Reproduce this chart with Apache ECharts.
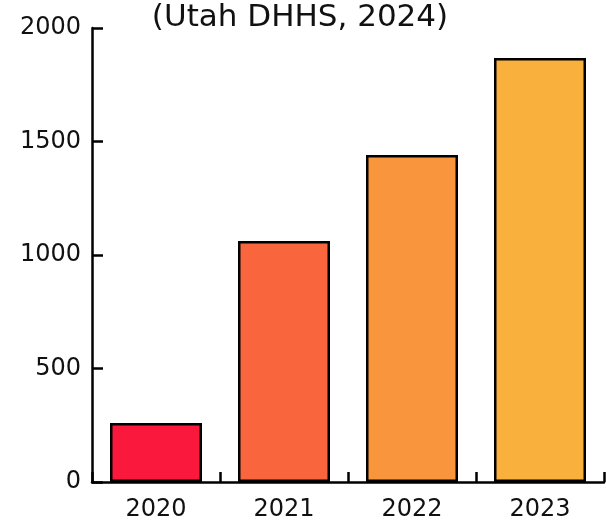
<!DOCTYPE html>
<html>
<head>
<meta charset="utf-8">
<script src="https://cdn.jsdelivr.net/npm/echarts@6/dist/echarts.min.js"></script>
<style>
  html, body { margin: 0; padding: 0; background: #fff; }
  #chart { width: 606px; height: 526px; }
</style>
</head>
<body>
<div id="chart"></div>
<script>
var years = ['2020', '2021', '2022', '2023'];
var counts = [260, 1062, 1440, 1868];
var barColors = ['#FA183D', '#F9653D', '#F9963D', '#F9B03C'];
var yTicks = [0, 500, 1000, 1500, 2000];

var font = 'DejaVu Sans';
var myChart = echarts.init(document.getElementById('chart'));

myChart.setOption({
    animation: false,
    title: {
        text: '(Utah DHHS, 2024)',
        left: 295,
        textAlign: 'center',
        top: -3,
        textStyle: { fontFamily: font, fontSize: 31, fontWeight: 'normal', color: '#111' }
    },
    grid: { left: 92, right: 2, top: 28, bottom: 44, containLabel: false },
    xAxis: {
        type: 'category',
        data: years,
        axisLine: { lineStyle: { color: '#000', width: 2.5 } },
        axisTick: { show: true, inside: true, length: 10, alignWithLabel: false, lineStyle: { color: '#000', width: 2.5 } },
        axisLabel: { margin: 16, fontFamily: font, fontSize: 24, color: '#111' }
    },
    yAxis: {
        type: 'value',
        min: yTicks[0],
        max: yTicks[yTicks.length - 1],
        interval: 500,
        splitLine: { show: false },
        axisLine: { show: true, lineStyle: { color: '#000', width: 2.5 } },
        axisTick: { show: true, inside: true, length: 11, lineStyle: { color: '#000', width: 2.5 } },
        axisLabel: {
            margin: 11, fontFamily: font, fontSize: 24, color: '#111',
            padding: [4, 0, 0, 0],
            formatter: function (v) { return String(v); }
        }
    },
    series: [{
        type: 'bar',
        barWidth: 92,
        data: counts.map(function (v, i) {
            return { value: v, itemStyle: { color: barColors[i] } };
        }),
        itemStyle: { borderColor: '#000', borderWidth: 2.5 }
    }]
});
</script>
</body>
</html>
